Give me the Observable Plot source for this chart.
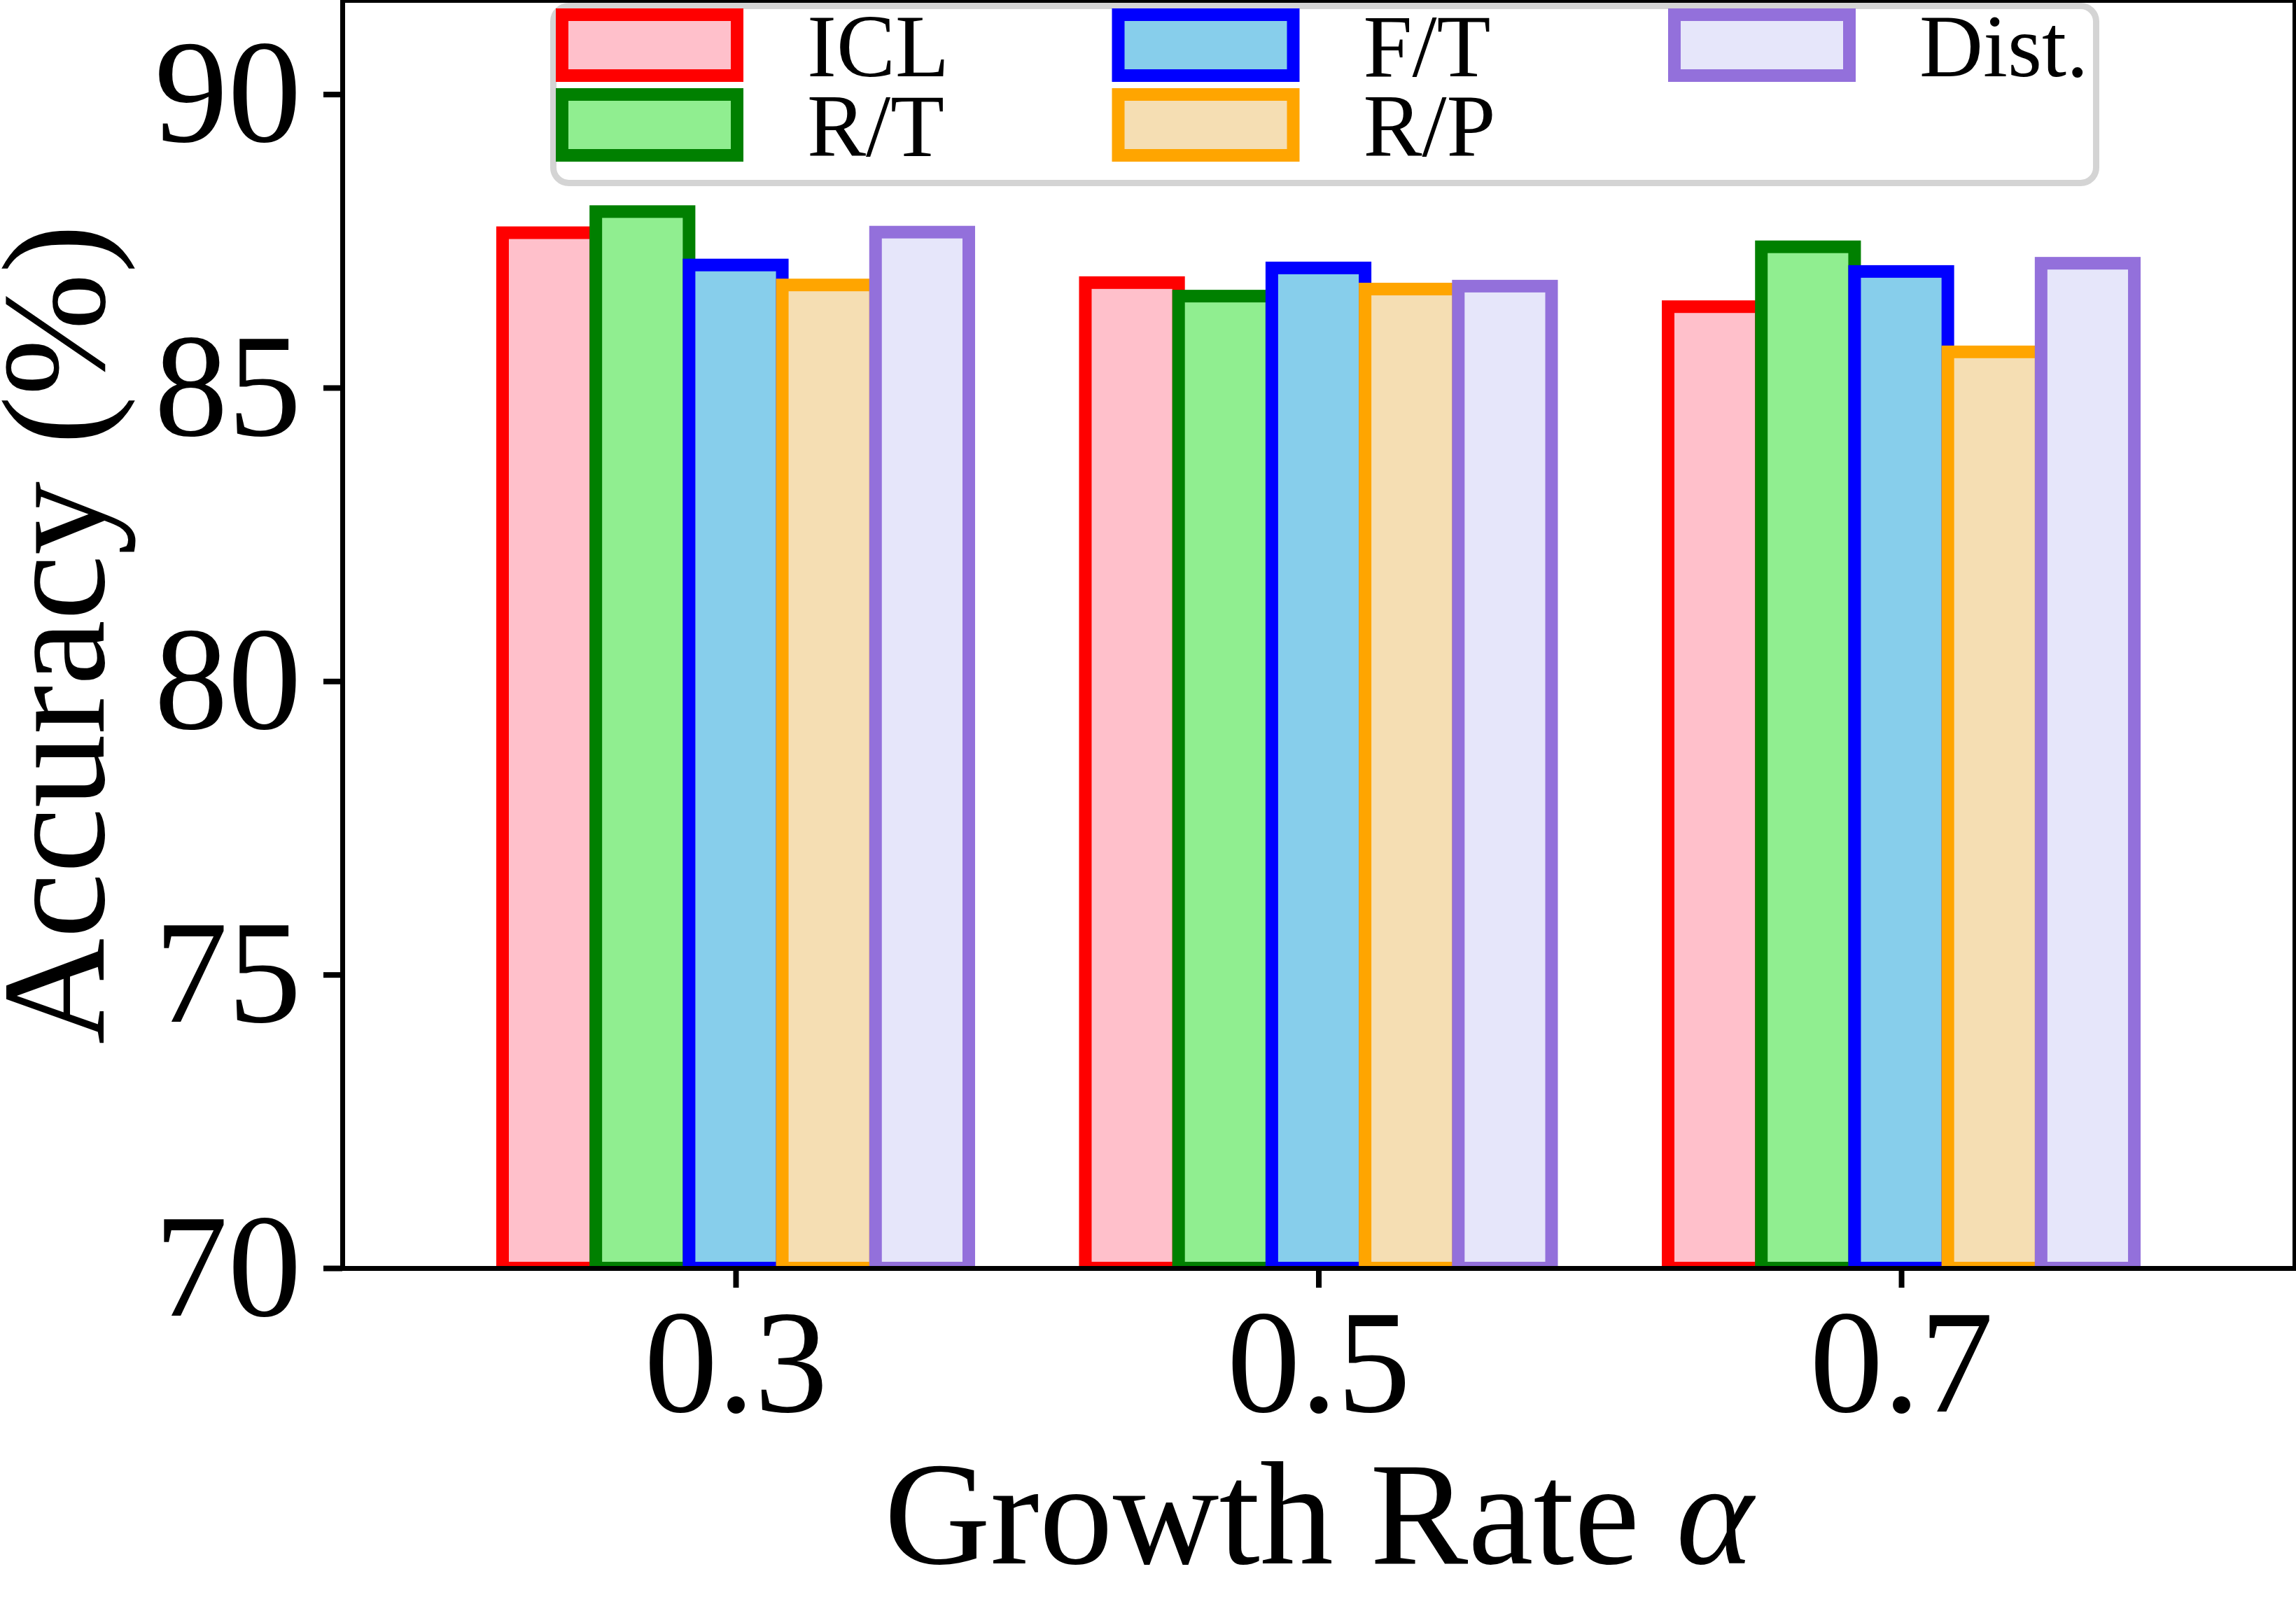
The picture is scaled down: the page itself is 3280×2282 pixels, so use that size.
<!DOCTYPE html>
<html>
<head>
<meta charset="utf-8">
<script src="https://cdn.jsdelivr.net/npm/d3@7"></script>
<script src="https://cdn.jsdelivr.net/npm/@observablehq/plot@0.6"></script>
<style>
  html, body { margin: 0; padding: 0; background: #fff; }
  #chart svg { display: block; }
</style>
</head>
<body>
<div id="chart"></div>
<script>
// ---- data ----
const groups = ["0.3", "0.5", "0.7"];
const methods = ["ICL", "R/T", "F/T", "R/P", "Dist."];
const icl  = [87.64, 86.79, 86.38];
const rt   = [88.00, 86.56, 87.40];
const ft   = [87.09, 87.04, 86.98];
const rp   = [86.75, 86.68, 85.61];
const dist = [87.65, 86.73, 87.12];
const fills   = ["pink", "lightgreen", "skyblue", "wheat", "lavender"];
const strokes = ["red", "green", "blue", "orange", "mediumpurple"];
const yTicks = [70, 75, 80, 85, 90];
const xLabel = "Growth Rate α";
const yLabel = "Accuracy (%)";

const series = [icl, rt, ft, rp, dist];
const barWidth = 0.16;
const rows = [];
methods.forEach((m, si) => groups.forEach((g, gi) =>
  rows.push({method: m, group: g, si, gi, value: series[si][gi]})));

const FONT = "'Liberation Serif', 'Times New Roman', Times, serif";

const chart = Plot.plot({
  width: 3280,
  height: 2282,
  marginLeft: 489,
  marginRight: 2,
  marginTop: 0,
  marginBottom: 470,
  style: {fontFamily: FONT, background: "white", color: "black", overflow: "visible"},
  x: {type: "linear", domain: [-0.675, 2.675]},
  y: {domain: [70, 91.605]},
  marks: [
    Plot.rectY(rows, {
      x1: d => d.gi + (d.si - 2.5) * barWidth,
      x2: d => d.gi + (d.si - 1.5) * barWidth,
      y1: 70,
      y2: "value",
      fill: d => fills[d.si],
      stroke: d => strokes[d.si],
      strokeWidth: 18,
      clip: true
    }),
    Plot.axisY({ticks: yTicks, tickSize: 27, tickPadding: 32, fontSize: 210, strokeWidth: 8, label: null}),
    Plot.axisX({ticks: [0, 1, 2], tickFormat: i => groups[i], tickSize: 28, tickPadding: 27, fontSize: 210, strokeWidth: 8, label: null}),
    Plot.text([xLabel], {text: d => d, frameAnchor: "bottom", dy: 421, lineAnchor: "bottom", textAnchor: "middle", fontSize: 210}),
    Plot.text([yLabel], {text: d => d, frameAnchor: "left", dx: -342, rotate: -90, lineAnchor: "bottom", textAnchor: "middle", fontSize: 210}),
    Plot.frame({stroke: "black", strokeWidth: 7})
  ]
});

document.getElementById("chart").appendChild(chart);

// italic alpha in x label
d3.select(chart).selectAll("text").each(function() {
  if (this.textContent === xLabel) {
    const el = d3.select(this);
    el.text(null);
    el.append("tspan").text("Growth Rate ");
    el.append("tspan").attr("font-style", "italic").text("α");
  }
});

// legend inside the axes (3 columns, filled column-wise)
const svg = d3.select(chart);
const lg = svg.append("g").attr("class", "legend");
lg.append("rect")
  .attr("x", 790.5).attr("y", 8.5).attr("width", 2204).attr("height", 253)
  .attr("rx", 22).attr("ry", 22)
  .attr("fill", "white").attr("stroke", "#d4d4d4").attr("stroke-width", 9);
methods.forEach((m, i) => {
  const c = Math.floor(i / 2), r = i % 2;
  lg.append("rect")
    .attr("x", 803 + c * 794.5).attr("y", 21 + r * 114)
    .attr("width", 250).attr("height", 87)
    .attr("fill", fills[i]).attr("stroke", strokes[i]).attr("stroke-width", 18);
  lg.append("text")
    .attr("x", 1153 + c * 794.5).attr("y", 109 + r * 114)
    .attr("text-anchor", "start")
    .attr("font-family", FONT).attr("font-size", 126).attr("fill", "black")
    .text(m);
});
</script>
</body>
</html>
